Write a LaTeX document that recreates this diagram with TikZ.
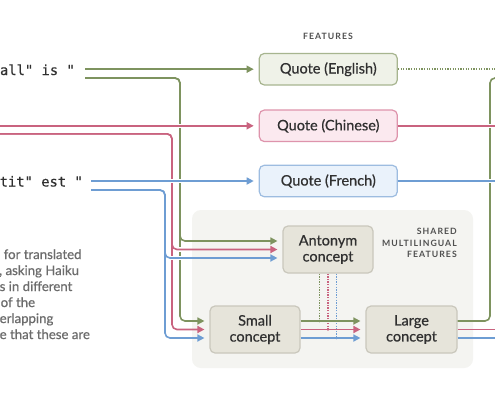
\documentclass[tikz,border=0pt]{standalone}
\usepackage{fontspec}
\setmainfont[FakeBold=0.6]{Lato}
\newfontfamily\monofnt[FakeBold=0.4]{DejaVu Sans Mono}
\newfontfamily\capsfnt[LetterSpace=12]{Lato}
\usetikzlibrary{arrows.meta,calc}
\definecolor{gl}{HTML}{7E935F}
\definecolor{pl}{HTML}{C9637F}
\definecolor{bl}{HTML}{6E9DD3}
\definecolor{enfill}{HTML}{EFF2E8}
\definecolor{enborder}{HTML}{A7B58F}
\definecolor{zhfill}{HTML}{FBE9EF}
\definecolor{zhborder}{HTML}{DE94AC}
\definecolor{frfill}{HTML}{EAF2FB}
\definecolor{frborder}{HTML}{9DBCE0}
\definecolor{cfill}{HTML}{E6E4DA}
\definecolor{cborder}{HTML}{C9C7BC}
\definecolor{bgfill}{HTML}{F4F4F1}
\definecolor{txt}{HTML}{303030}
\definecolor{paratxt}{HTML}{6C6C6C}
\definecolor{captxt}{HTML}{505050}
\newcommand\gapat[1]{\draw[white, line width=4.2pt] ($(#1)+(-3,0)$) -- ($(#1)+(3,0)$);}
\begin{document}
\begin{tikzpicture}[x=1pt,y=-1pt,
  wire/.style={line width=1.6pt, rounded corners=5pt},
  arr/.style={-{Triangle[length=7pt,width=7pt]}, shorten >=5pt},
  dotline/.style={line width=1.5pt, dash pattern=on 1.3pt off 1.3pt},
  quotebox/.style={rounded corners=5pt, line width=1.2pt, minimum width=138pt, minimum height=31.5pt, inner sep=0pt, text=txt, font=\fontsize{14.5}{16}\selectfont},
  conceptbox/.style={draw=cborder, fill=cfill, rounded corners=5pt, line width=1.2pt, minimum width=90pt, minimum height=47pt, inner sep=0pt, align=center, text=txt, font=\fontsize{14.5}{16}\selectfont},
  capslbl/.style={text=captxt, inner sep=0pt, font=\capsfnt\bfseries\fontsize{8.7}{12}\selectfont},
  paratext/.style={text=paratxt, inner sep=0pt, anchor=base west, font=\fontsize{13.2}{16}\selectfont},
  monotext/.style={text=txt, inner sep=0pt, anchor=base east, font=\monofnt\fontsize{13.8}{16}\selectfont},
  enddot/.style={circle, inner sep=0pt, minimum size=2.6pt}
]
\useasboundingbox (0,0) rectangle (495,400);
\clip (0,0) rectangle (495,400);
\fill[white] (0,0) rectangle (495,400);

% shared area
\node[fill=bgfill, rounded corners=9pt, minimum width=281pt, minimum height=158pt, inner sep=0pt] (shared) at (332.5,289) {};

% boxes
\node[quotebox, draw=enborder, fill=enfill] (en) at (328.3,69.2) {Quote (English)};
\node[quotebox, draw=zhborder, fill=zhfill] (zh) at (328.3,125.8) {Quote (Chinese)};
\node[quotebox, draw=frborder, fill=frfill] (fr) at (328.3,181) {Quote (French)};
\node[conceptbox] (ant) at (328,249.5) {Antonym\\concept};
\node[conceptbox] (small) at (255,329.5) {Small\\concept};
\node[conceptbox, minimum width=91pt] (large) at (411.5,329.5) {Large\\concept};

% labels
\node[capslbl] (feat) at (328,36) {FEATURES};
\node[capslbl, anchor=base east] (sh1) at (457,234) {SHARED};
\node[capslbl, anchor=base east] (sh2) at (457,246) {MULTILINGUAL};
\node[capslbl, anchor=base east] (sh3) at (457,257.5) {FEATURES};

\node[monotext] (entext) at (75,75) {all" is "};
\node[monotext] (frtext) at (83,186.5) {tit" est "};

\node[paratext] (l1) at (3.5,259) {for translated};
\node[paratext] (l2) at (-1,275) {, asking Haiku};
\node[paratext] (l3) at (-0.5,291) {s in different};
\node[paratext] (l4) at (0.5,307) {of the};
\node[paratext] (l5) at (-0.5,323) {erlapping};
\node[paratext] (l6) at (-0.5,339) {e that these are};

% free ends
\coordinate (g0) at (85,69.2);
\coordinate (g1) at (85,78);
\coordinate (p0) at (-5,125.8);
\coordinate (p1) at (-5,133.8);
\coordinate (b0) at (91,181);
\coordinate (b1) at (91,190);
\coordinate (ee) at (500,69.2);
\coordinate (ge) at (500,78);
\coordinate (ze) at (500,125.8);
\coordinate (fe) at (500,181);

% dotted links from antonym
\draw[dotline, gl] ($(ant.south)+(-8.5,0)$) -- (319.5,321) node[enddot, fill=gl] (dg) {};
\draw[dotline, pl] ($(ant.south)+(0,0)$) -- (328,329.5) node[enddot, fill=pl] (dp) {};
\draw[dotline, bl] ($(ant.south)+(8.5,0)$) -- (336.5,338) node[enddot, fill=bl] (db) {};

% green
\draw[wire, gl, arr] (g0) -- (en.west);
\draw[wire, gl, arr] (g1) -| (180,241) -- ($(ant.west)+(0,-8.5)$);
\draw[wire, gl, arr] (g1) -| (180,321) -- ($(small.west)+(0,-8.5)$);
\draw[wire, gl, arr] ($(small.east)+(0,-8.5)$) -- ($(large.west)+(0,-8.5)$);
\draw[wire, gl] ($(large.east)+(0,-8.5)$) -| (490,78) -- (ge);
\draw[dotline, gl] (en.east) -- (ee);

\gapat{180,125.8}
\gapat{180,249.5}
\gapat{490,125.8}

% pink
\draw[wire, pl, arr] (p0) -- (zh.west);
\draw[wire, pl, arr] (p1) -| (172,249.5) -- (ant.west);
\draw[wire, pl, arr] (p1) -| (172,329.5) -- (small.west);
\draw[wire, pl, arr] (small.east) -- (large.west);
\draw[wire, pl] (large.east) -- (500,329.5);
\draw[wire, pl] (zh.east) -- (ze);

\gapat{172,181}
\gapat{180,181}
\gapat{172,258}
\gapat{180,258}
\gapat{490,181}

% blue
\draw[wire, bl, arr] (b0) -- (fr.west);
\draw[wire, bl, arr] (b1) -| (165,258) -- ($(ant.west)+(0,8.5)$);
\draw[wire, bl, arr] (b1) -| (165,338) -- ($(small.west)+(0,8.5)$);
\draw[wire, bl, arr] ($(small.east)+(0,8.5)$) -- ($(large.west)+(0,8.5)$);
\draw[wire, bl] ($(large.east)+(0,8.5)$) -- (500,338);
\draw[wire, bl] (fr.east) -- (fe);
\end{tikzpicture}
\end{document}
